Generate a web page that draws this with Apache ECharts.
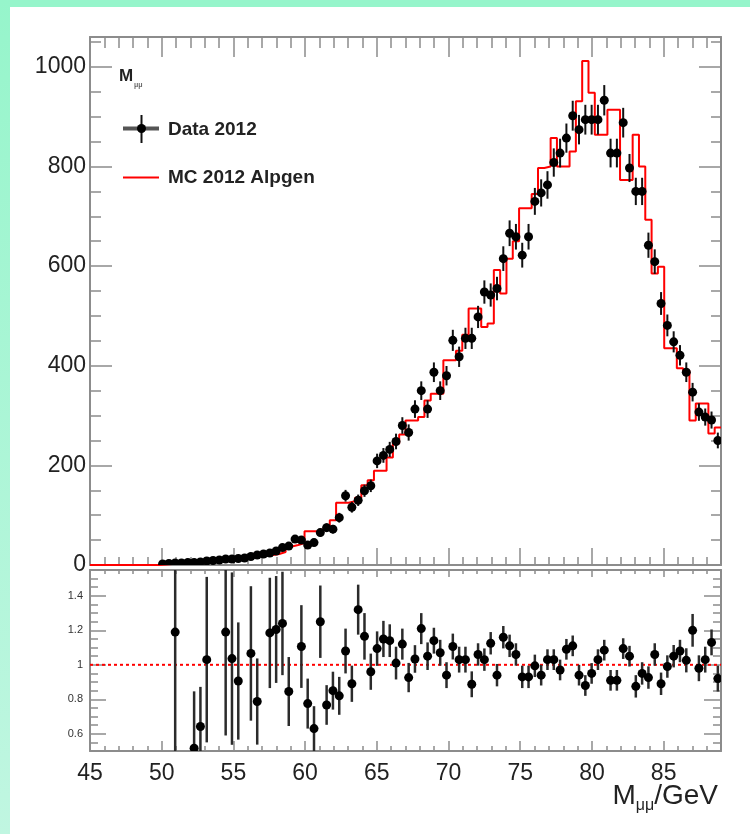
<!DOCTYPE html>
<html>
<head>
<meta charset="utf-8">
<script src="https://cdn.jsdelivr.net/npm/echarts@6/dist/echarts.min.js"></script>
<style>
html,body{margin:0;padding:0;background:#fff;}
#chart{width:750px;height:834px;}
</style>
</head>
<body>
<div id="chart"></div>
<script>
// ---- binning (histogram structure) ----
const xMin = 45, xMax = 89, binWidth = 0.44;

// ---- MC 2012 Alpgen (red histogram), one value per bin ----
const mcCounts = [
  0,0,0,0,0,0,0,0,0,0,
  0,1,2,3,3,4,8,9,9,10,
  11,10,12,15,15,16,23,22,20,22,
  26,37,40,44,68,68,68,75,90,125,
  125,128,135,160,170,189,189,216,244,262,
  290,290,297,330,344,344,411,411,430,462,
  515,515,478,485,592,545,615,650,716,716,
  745,797,800,857,800,800,830,931,1012,948,
  864,864,914,914,773,773,864,800,693,585,
  599,435,435,395,390,290,324,324,264,276
];

// ---- Data 2012 (points), one value per bin ----
const dataCounts = [
  null,null,null,null,null,null,null,null,null,null,
  null,2,3,4,4,5,5,6,8,9,
  10,12,12,13,14,17,20,22,24,28,
  35,38,52,50,40,45,65,75,72,95,
  139,116,130,149,159,209,220,232,248,280,
  266,313,350,313,387,350,380,451,418,455,
  455,498,548,542,555,615,666,659,622,659,
  730,747,763,808,827,857,902,874,894,894,
  894,933,827,827,888,797,750,750,642,609,
  525,481,448,421,387,347,307,297,291,250
];
const dataErrors = [
  null,null,null,null,null,null,null,null,null,null,
  null,1.4,1.7,2,2,2.2,2.2,2.4,2.8,3,
  3.2,3.5,3.5,3.6,3.7,4.1,4.5,4.7,4.9,5.3,
  5.9,6.2,7.2,7.1,6.3,6.7,8.1,8.7,8.5,9.7,
  11.8,10.8,11.4,12.2,12.6,14.5,14.8,15.2,15.7,16.7,
  16.3,17.7,18.7,17.7,19.7,18.7,19.5,21.2,20.4,21.3,
  21.3,22.3,23.4,23.3,23.6,24.8,25.8,25.7,24.9,25.7,
  27,27.3,27.6,28.4,28.8,29.3,30,29.6,29.9,29.9,
  29.9,30.5,28.8,28.8,29.8,28.2,27.4,27.4,25.3,24.7,
  22.9,21.9,21.2,20.5,19.7,18.6,17.5,17.2,17.1,15.8
];

// ---- Data / MC ratio, one value per bin (null = not shown) ----
const ratioValues = [
  null,null,null,null,null,null,null,null,null,null,
  null,null,null,1.19,null,null,0.516,0.642,1.03,null,
  null,1.19,1.036,0.906,null,1.066,0.787,null,1.185,1.205,
  1.24,0.845,null,1.106,0.775,0.63,1.25,0.767,0.85,0.82,
  1.08,0.89,1.32,1.165,0.96,1.094,1.15,1.14,1.01,1.12,
  0.926,1.034,1.21,1.05,1.14,1.07,0.94,1.106,1.03,1.03,
  0.887,1.06,1.03,1.125,0.94,1.16,1.11,1.06,0.93,0.93,
  0.994,0.94,1.03,1.03,0.97,1.09,1.11,0.94,0.88,0.95,
  1.03,1.085,0.91,0.91,1.094,1.05,0.875,0.95,0.926,1.06,
  0.89,0.99,1.05,1.08,1.026,1.2,0.98,1.03,1.13,0.92
];
const ratioErrors = [
  null,null,null,null,null,null,null,null,null,null,
  null,null,null,1.0,null,null,0.33,0.23,0.48,null,
  null,0.6,0.5,0.34,null,0.39,0.25,null,0.32,0.31,
  0.3,0.2,null,0.24,0.145,0.13,0.21,0.115,0.11,0.11,
  0.13,0.105,0.145,0.135,0.105,0.1,0.105,0.095,0.095,0.09,
  0.085,0.08,0.09,0.08,0.075,0.075,0.075,0.075,0.075,0.075,
  0.075,0.065,0.065,0.065,0.065,0.065,0.065,0.065,0.065,0.065,
  0.065,0.06,0.06,0.06,0.06,0.06,0.06,0.06,0.06,0.06,
  0.06,0.06,0.06,0.06,0.06,0.06,0.065,0.065,0.065,0.065,
  0.065,0.065,0.065,0.065,0.07,0.095,0.075,0.075,0.075,0.075
];

// ---- tick labels ----
const xTickLabels = [45,50,55,60,65,70,75,80,85];
const yTickLabels = [0,200,400,600,800,1000];
const ratioTickLabels = [0.6,0.8,1,1.2,1.4];
const legendLabels = ['Data 2012','MC 2012 Alpgen'];

// ---- build series data from arrays ----
const mcStep = [];
for (let i = 0; i < mcCounts.length; i++) {
  const lo = xMin + binWidth * i, hi = xMin + binWidth * (i + 1);
  mcStep.push([lo, mcCounts[i]]);
  mcStep.push([hi, mcCounts[i]]);
}
const dataPts = [], ratioPts = [];
for (let i = 0; i < dataCounts.length; i++) {
  const c = xMin + binWidth * (i + 0.5);
  if (dataCounts[i] != null) dataPts.push([c, dataCounts[i], dataErrors[i]]);
  if (ratioValues[i] != null) ratioPts.push([c, ratioValues[i], ratioErrors[i]]);
}

const FONT = "'Liberation Sans', Arial, Helvetica, sans-serif";
const GRAY = '#8c8c8c';

function pointRenderer(halfW, radius, barWidth, barColor) {
  return function (params, api) {
    const x = api.value(0), y = api.value(1), e = api.value(2);
    const c = api.coord([x, y]);
    const t = api.coord([x, y + e]);
    const b = api.coord([x, y - e]);
    const l = api.coord([x - halfW, y]);
    const r = api.coord([x + halfW, y]);
    return {
      type: 'group',
      children: [
        {type: 'line', shape: {x1: c[0], y1: t[1], x2: c[0], y2: b[1]}, style: {stroke: barColor, lineWidth: barWidth}},
        {type: 'line', shape: {x1: l[0], y1: c[1], x2: r[0], y2: c[1]}, style: {stroke: barColor, lineWidth: barWidth}},
        {type: 'circle', shape: {cx: c[0], cy: c[1], r: radius}, style: {fill: '#000'}}
      ]
    };
  };
}

function ax(o) {
  const base = {
    type: 'value', silent: true,
    splitLine: {show: false},
    axisLine: {show: false, onZero: false, lineStyle: {color: GRAY, width: 2}},
    axisLabel: {show: false},
    axisTick: {show: true, inside: true, length: 8, lineStyle: {color: GRAY, width: 1.5}}
  };
  const res = Object.assign({}, base, o);
  res.axisLine = Object.assign({}, base.axisLine, o.axisLine || {});
  res.axisTick = Object.assign({}, base.axisTick, o.axisTick || {});
  res.axisLabel = Object.assign({}, base.axisLabel, o.axisLabel || {});
  return res;
}

const G0 = {left: 90, top: 37, width: 631, height: 528};
const G1 = {left: 90, top: 570, width: 631, height: 181};
const yMax0 = 1060, rMin = 0.5, rMax = 1.55;

const xAxes = [
  // grid 0
  ax({gridIndex: 0, position: 'bottom', min: xMin, max: xMax, axisLine: {show: true}, axisTick: {length: 17, customValues: xTickLabels}}),
  ax({gridIndex: 0, position: 'bottom', min: xMin, max: xMax, interval: 1, axisTick: {length: 8}}),
  ax({gridIndex: 0, position: 'top', min: xMin, max: xMax, axisLine: {show: true}, axisTick: {length: 20, customValues: xTickLabels}}),
  ax({gridIndex: 0, position: 'top', min: xMin, max: xMax, interval: 1, axisTick: {length: 11}}),
  // grid 1
  ax({gridIndex: 1, position: 'bottom', min: xMin, max: xMax, axisLine: {show: true},
      axisTick: {length: 10, customValues: xTickLabels},
      axisLabel: {show: true, customValues: xTickLabels, fontFamily: FONT, fontSize: 23, color: '#222', margin: 11,
                  formatter: v => String(v)}}),
  ax({gridIndex: 1, position: 'bottom', min: xMin, max: xMax, interval: 1, axisTick: {length: 5}}),
  ax({gridIndex: 1, position: 'top', min: xMin, max: xMax, axisLine: {show: true}, axisTick: {length: 7, customValues: xTickLabels}}),
  ax({gridIndex: 1, position: 'top', min: xMin, max: xMax, interval: 1, axisTick: {length: 4}})
];
const yAxes = [
  ax({gridIndex: 0, position: 'left', min: 0, max: yMax0, axisLine: {show: true},
      axisTick: {length: 22, customValues: yTickLabels},
      axisLabel: {show: true, customValues: yTickLabels, fontFamily: FONT, fontSize: 23, color: '#222', margin: 4,
                  formatter: v => String(Math.round(v))}}),
  ax({gridIndex: 0, position: 'left', min: 0, max: yMax0, interval: 50, axisTick: {length: 11}}),
  ax({gridIndex: 0, position: 'right', min: 0, max: yMax0, axisLine: {show: true}, axisTick: {length: 22, customValues: yTickLabels}}),
  ax({gridIndex: 0, position: 'right', min: 0, max: yMax0, interval: 50, axisTick: {length: 10}}),
  ax({gridIndex: 1, position: 'left', min: rMin, max: rMax, axisLine: {show: true},
      axisTick: {length: 16, customValues: ratioTickLabels},
      axisLabel: {show: true, customValues: ratioTickLabels, fontFamily: FONT, fontSize: 11, color: '#333', margin: 7,
                  formatter: v => (Math.abs(v - 1) < 1e-9 ? '1' : v.toFixed(1))}}),
  ax({gridIndex: 1, position: 'left', min: rMin, max: rMax, interval: 0.05, axisTick: {length: 8}}),
  ax({gridIndex: 1, position: 'right', min: rMin, max: rMax, axisLine: {show: true}, axisTick: {length: 17, customValues: ratioTickLabels}}),
  ax({gridIndex: 1, position: 'right', min: rMin, max: rMax, interval: 0.05, axisTick: {length: 8}})
];

const chart = echarts.init(document.getElementById('chart'), null, {renderer: 'canvas'});

// text width helper for the axis title pieces
const mctx = document.createElement('canvas').getContext('2d');
function tw(txt, font) { mctx.font = font; return mctx.measureText(txt).width; }
const titleFont = '28px ' + FONT, subFont = '16px ' + FONT;
const titleRight = 718;
const wGeV = tw('/GeV', titleFont), wSub = tw('μμ', subFont);
const titleMid = 796;

const option = {
  animation: false,
  backgroundColor: '#ffffff',
  grid: [Object.assign({containLabel: false}, G0), Object.assign({containLabel: false}, G1)],
  xAxis: xAxes,
  yAxis: yAxes,
  series: [
    {
      name: legendLabels[1], type: 'line', xAxisIndex: 0, yAxisIndex: 0,
      data: mcStep, showSymbol: false, symbol: 'none', clip: true, z: 2,
      lineStyle: {color: '#ff0000', width: 2}
    },
    {
      name: legendLabels[0], type: 'custom', xAxisIndex: 0, yAxisIndex: 0,
      data: dataPts, clip: true, z: 3, encode: {x: 0, y: 1},
      renderItem: pointRenderer(binWidth / 2, 4.5, 2, '#111')
    },
    {
      type: 'line', xAxisIndex: 4, yAxisIndex: 4, data: [[xMin, 1], [xMax, 1]],
      showSymbol: false, symbol: 'none', z: 2,
      lineStyle: {color: '#ff0000', width: 2, type: [3, 3]}
    },
    {
      type: 'custom', xAxisIndex: 4, yAxisIndex: 4,
      data: ratioPts, clip: true, z: 3, encode: {x: 0, y: 1},
      renderItem: pointRenderer(binWidth / 2, 4.5, 2.5, '#2b2b2b')
    }
  ],
  graphic: [
    {type: 'rect', silent: true, shape: {x: 0, y: 0, width: 750, height: 7}, style: {fill: '#96f5cb'}},
    {type: 'rect', silent: true, shape: {x: 0, y: 0, width: 10, height: 834},
     style: {fill: new echarts.graphic.LinearGradient(0, 0, 0, 1, [{offset: 0, color: '#96f5cb'}, {offset: 1, color: '#c0f6e1'}])}},
    // legend header
    {type: 'text', x: 119, y: 76, style: {text: 'M', font: 'bold 17px ' + FONT, fill: '#222', verticalAlign: 'middle'}},
    {type: 'text', x: 134, y: 85, style: {text: 'μμ', font: 'bold 7px ' + FONT, fill: '#666', verticalAlign: 'middle'}},
    // legend: data
    {type: 'line', shape: {x1: 123, y1: 128.5, x2: 159, y2: 128.5}, style: {stroke: '#555', lineWidth: 4}},
    {type: 'line', shape: {x1: 141.5, y1: 115, x2: 141.5, y2: 143}, style: {stroke: '#111', lineWidth: 2}},
    {type: 'circle', shape: {cx: 141.5, cy: 128.5, r: 4.5}, style: {fill: '#000'}},
    {type: 'text', x: 168, y: 130, style: {text: legendLabels[0], font: 'bold 19px ' + FONT, fill: '#222', verticalAlign: 'middle'}},
    // legend: MC
    {type: 'line', shape: {x1: 123, y1: 177.5, x2: 159, y2: 177.5}, style: {stroke: '#ff0000', lineWidth: 2}},
    {type: 'text', x: 168, y: 178, style: {text: legendLabels[1], font: 'bold 19px ' + FONT, fill: '#222', verticalAlign: 'middle'}},
    // x axis title M_{μμ}/GeV
    {type: 'text', x: titleRight, y: titleMid, style: {text: '/GeV', font: titleFont, fill: '#222', align: 'right', verticalAlign: 'middle'}},
    {type: 'text', x: titleRight - wGeV, y: titleMid + 10, style: {text: 'μμ', font: subFont, fill: '#222', align: 'right', verticalAlign: 'middle'}},
    {type: 'text', x: titleRight - wGeV - wSub, y: titleMid, style: {text: 'M', font: titleFont, fill: '#222', align: 'right', verticalAlign: 'middle'}}
  ]
};
chart.setOption(option);
</script>
</body>
</html>
